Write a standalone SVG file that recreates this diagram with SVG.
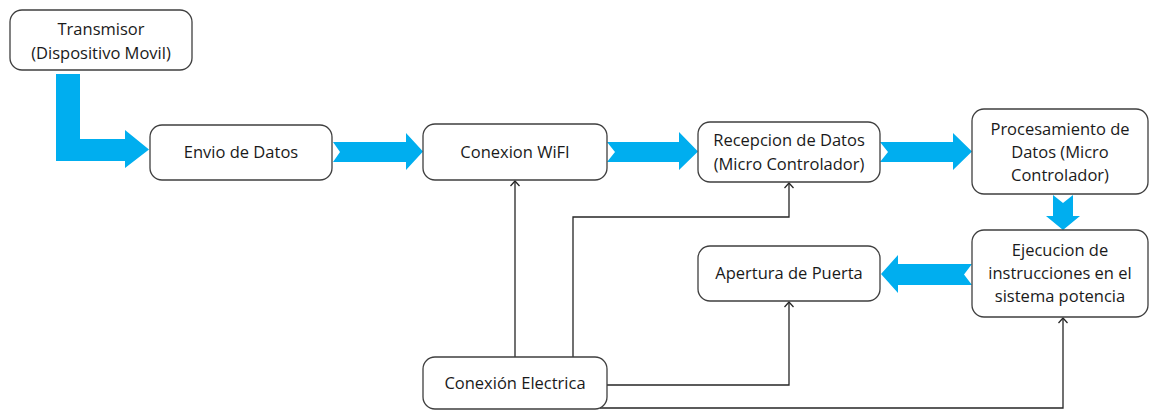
<svg xmlns="http://www.w3.org/2000/svg" width="1150" height="410" viewBox="0 0 1150 410">
<defs>
<style>
.box{fill:#fff;stroke:#3f3f3f;stroke-width:1.3}
.t{font-family:"Open Sans","Liberation Sans",sans-serif;font-size:16.5px;fill:#1a1a1a;text-anchor:middle}
.blue{fill:#00AEEF}
.wire{fill:none;stroke:#262626;stroke-width:1.3}
</style>
<marker id="ah" viewBox="0 0 10 10" refX="9" refY="5" markerWidth="10" markerHeight="10" markerUnits="userSpaceOnUse" orient="auto">
<path d="M4,0.5 L9,5 L4,9.5" fill="none" stroke="#262626" stroke-width="1.3"/>
</marker>
</defs>
<rect width="1150" height="410" fill="#fff"/>
<g id="connectors">
<polygon class="blue" points="56,74 80,74 80,139 125,139 125,130 149,149.5 125,168 125,161 56,161"/>
<polygon class="blue" points="333,142 406,142 406,133 423,151.5 406,170 406,162 333,162 340,152"/>
<polygon class="blue" points="607,142 679,142 679,132 698,151.5 679,170 679,162 607,162 615,152"/>
<polygon class="blue" points="880,142 953,142 953,133 972,151.5 953,170 953,162 880,162 888,152"/>
<polygon class="blue" points="1053,195 1063,203 1073,195 1073,216 1080,216 1063,230 1046,216 1053,216"/>
<polygon class="blue" points="972,264 898,264 898,255 881,274 898,293 898,285 972,285 964,274.5"/>
<path class="wire" d="M515,357 V181" marker-end="url(#ah)"/>
<path class="wire" d="M573,357 V217 H789 V183" marker-end="url(#ah)"/>
<path class="wire" d="M607,385 H789 V302" marker-end="url(#ah)"/>
<path class="wire" d="M600,408 H1063 V318" marker-end="url(#ah)"/>
</g>
<g id="transmisor">
<rect class="box" x="10" y="10" width="182" height="60" rx="12"/>
<text class="t" x="101" y="35">Transmisor</text>
<text class="t" x="101" y="59">(Dispositivo Movil)</text>
</g>
<g id="envio">
<rect class="box" x="150" y="125" width="182" height="55" rx="12"/>
<text class="t" x="241" y="158">Envio de Datos</text>
</g>
<g id="wifi">
<rect class="box" x="423" y="124" width="184" height="56" rx="12"/>
<text class="t" x="515" y="158">Conexion WiFI</text>
</g>
<g id="recepcion">
<rect class="box" x="698" y="122" width="182" height="60" rx="12"/>
<text class="t" x="789" y="146">Recepcion de Datos</text>
<text class="t" x="789" y="170">(Micro Controlador)</text>
</g>
<g id="procesamiento">
<rect class="box" x="972" y="109" width="176" height="85" rx="12"/>
<text class="t" x="1060" y="135">Procesamiento de</text>
<text class="t" x="1060" y="158">Datos (Micro</text>
<text class="t" x="1060" y="181">Controlador)</text>
</g>
<g id="ejecucion">
<rect class="box" x="972" y="230" width="176" height="87" rx="12"/>
<text class="t" x="1060" y="256">Ejecucion de</text>
<text class="t" x="1060" y="279">instrucciones en el</text>
<text class="t" x="1060" y="302">sistema potencia</text>
</g>
<g id="apertura">
<rect class="box" x="698" y="246" width="182" height="55" rx="12"/>
<text class="t" x="789" y="279">Apertura de Puerta</text>
</g>
<g id="electrica">
<rect class="box" x="423" y="357" width="184" height="52" rx="12"/>
<text class="t" x="515" y="389">Conexión Electrica</text>
</g>
</svg>
